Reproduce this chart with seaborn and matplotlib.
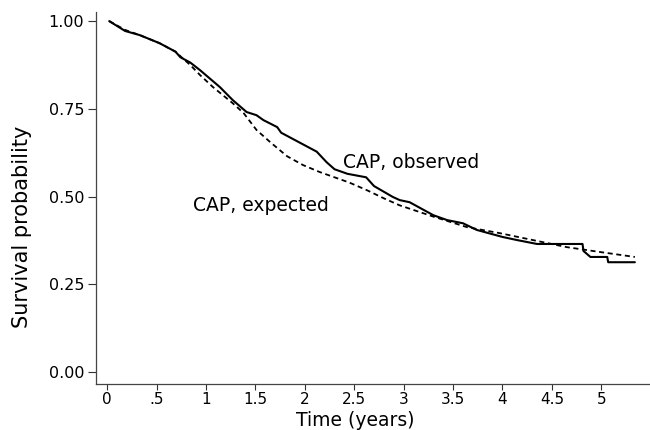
import matplotlib
matplotlib.use("Agg")
import matplotlib.pyplot as plt
import seaborn as sns
import pandas as pd

# ---- data ----
obs_time = [0.02, 0.18, 0.33, 0.53, 0.69, 0.74, 0.84, 0.94, 1.04, 1.14, 1.27, 1.41,
            1.51, 1.58, 1.72, 1.76, 1.92, 2.12, 2.22, 2.30, 2.43, 2.62, 2.70, 2.89,
            2.96, 3.06, 3.30, 3.44, 3.60, 3.74, 4.00, 4.15, 4.35, 4.81, 4.82, 4.89,
            5.06, 5.07, 5.34]
obs_surv = [1.000, 0.972, 0.960, 0.937, 0.913, 0.897, 0.882, 0.860, 0.836, 0.812,
            0.775, 0.741, 0.732, 0.718, 0.698, 0.682, 0.658, 0.628, 0.598, 0.578,
            0.565, 0.555, 0.530, 0.499, 0.490, 0.484, 0.447, 0.433, 0.424, 0.405,
            0.385, 0.376, 0.365, 0.365, 0.345, 0.328, 0.328, 0.313, 0.313]

exp_time = [0.02, 0.18, 0.33, 0.53, 0.69, 0.76, 0.84, 0.94, 1.07, 1.17, 1.27, 1.38,
            1.51, 1.65, 1.82, 1.98, 2.15, 2.32, 2.45, 2.63, 2.80, 2.96, 3.30, 3.64,
            3.97, 4.31, 4.65, 4.99, 5.34]
exp_surv = [1.000, 0.975, 0.960, 0.937, 0.913, 0.895, 0.875, 0.846, 0.812, 0.789,
            0.766, 0.738, 0.690, 0.655, 0.615, 0.590, 0.570, 0.553, 0.540, 0.518,
            0.495, 0.475, 0.443, 0.413, 0.396, 0.376, 0.356, 0.342, 0.328]

x_ticks = [0, 0.5, 1, 1.5, 2, 2.5, 3, 3.5, 4, 4.5, 5]
x_tick_labels = ["0", ".5", "1", "1.5", "2", "2.5", "3", "3.5", "4", "4.5", "5"]
y_ticks = [0.0, 0.25, 0.5, 0.75, 1.0]
y_tick_labels = ["0.00", "0.25", "0.50", "0.75", "1.00"]

labels = ["CAP, observed", "CAP, expected"]
label_pos = [(2.39, 0.598), (0.87, 0.476)]

# ---- plot ----
sns.set_theme(style="white")
plt.rcParams["font.family"] = ["DejaVu Sans"]

fig = plt.figure(figsize=(6.5, 4.3), dpi=100)
ax = fig.add_axes([96 / 650, 46 / 430, 554 / 650, 372 / 430])

obs_df = pd.DataFrame({"time": obs_time, "surv": obs_surv})
exp_df = pd.DataFrame({"time": exp_time, "surv": exp_surv})

sns.lineplot(data=obs_df, x="time", y="surv", ax=ax, color="black",
             linewidth=1.5, sort=False, estimator=None)
sns.lineplot(data=exp_df, x="time", y="surv", ax=ax, color="black",
             linewidth=1.3, sort=False, estimator=None)
ax.lines[-1].set_dashes((2.8, 2.0))

for txt, (tx, ty) in zip(labels, label_pos):
    ax.text(tx, ty, txt, fontsize=13.5, ha="left", va="center", color="black")

ax.set_xlim(-0.114, 5.493)
ax.set_ylim(-0.034, 1.026)
ax.set_xticks(x_ticks)
ax.set_xticklabels(x_tick_labels)
ax.set_yticks(y_ticks)
ax.set_yticklabels(y_tick_labels)

ax.tick_params(axis="x", direction="out", length=4, width=0.8, pad=2,
               labelsize=11, colors="#333333", labelcolor="black", bottom=True)
ax.tick_params(axis="y", direction="out", length=5.5, width=0.8, pad=3,
               labelsize=11.5, colors="#333333", labelcolor="black", left=True)

for side in ["top", "right"]:
    ax.spines[side].set_visible(False)
for side in ["left", "bottom"]:
    ax.spines[side].set_color("#444444")
    ax.spines[side].set_linewidth(0.9)

ax.set_xlabel("Time (years)", fontsize=13.5, color="black")
ax.set_ylabel("Survival probability", fontsize=15, color="black")
ax.xaxis.label.set_va("center")
ax.yaxis.label.set_va("center")
ax.xaxis.set_label_coords(0.468, -0.097)
ax.yaxis.set_label_coords(-0.134, 0.422)

ax.grid(False)
fig.savefig("out.png", dpi=100, facecolor="white")
